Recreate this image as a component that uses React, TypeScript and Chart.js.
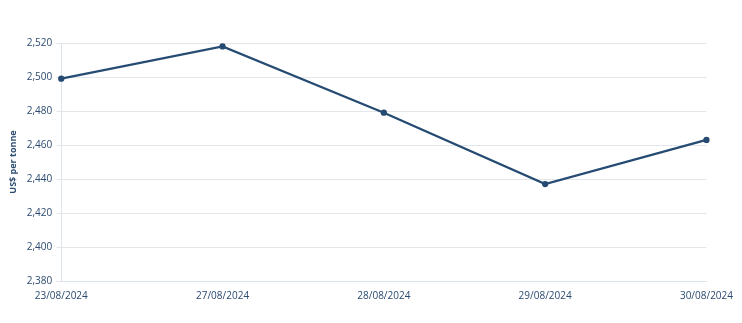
import React, { useEffect, useRef } from "react";
import { Chart, registerables } from "chart.js";

Chart.register(...registerables);

const categories = ["23/08/2024", "27/08/2024", "28/08/2024", "29/08/2024", "30/08/2024"];
const prices = [2499, 2518, 2479, 2437, 2463];
const yMin = 2380;
const yMax = 2520;
const yStep = 20;

const TEXT = "#2b4a6f";
const LINE = "#264b73";

export default function App() {
  const ref = useRef<HTMLCanvasElement | null>(null);
  useEffect(() => {
    if (!ref.current) return;
    const chart = new Chart(ref.current, {
      type: "line",
      data: {
        labels: categories,
        datasets: [
          {
            data: prices,
            borderColor: LINE,
            backgroundColor: LINE,
            borderWidth: 2.3,
            pointRadius: 2,
            pointHoverRadius: 3,
            tension: 0,
          },
        ],
      },
      options: {
        animation: false,
        responsive: false,
        maintainAspectRatio: false,
        layout: { padding: { top: 35, right: 0, left: 0, bottom: 4 } },
        plugins: { legend: { display: false }, tooltip: { enabled: false } },
        scales: {
          x: {
            offset: false,
            grid: { display: false, drawTicks: false },
            border: { display: true, color: "#dde3ea" },
            ticks: { color: TEXT, font: { family: "Open Sans", size: 10 }, maxRotation: 0, padding: 9 },
          },
          y: {
            min: yMin,
            max: yMax,
            ticks: {
              stepSize: yStep,
              color: TEXT,
              font: { family: "Open Sans", size: 10 },
              padding: 4,
              callback: (v: any) => Number(v).toLocaleString("en-US"),
            },
            grid: { color: "#e3e7ec", tickLength: 5 },
            border: { display: true, color: "#dde3ea" },
            title: {
              display: true,
              text: "US$ per tonne",
              color: TEXT,
              font: { family: "Open Sans", size: 9, weight: "bold" },
              padding: { top: 0, bottom: 4 },
            },
          },
        },
      },
    });
    return () => chart.destroy();
  }, []);
  return (
    <div style={{ width: 734, height: 307 }}>
      <canvas ref={ref} width={734} height={307} style={{ width: 734, height: 307 }} />
    </div>
  );
}
